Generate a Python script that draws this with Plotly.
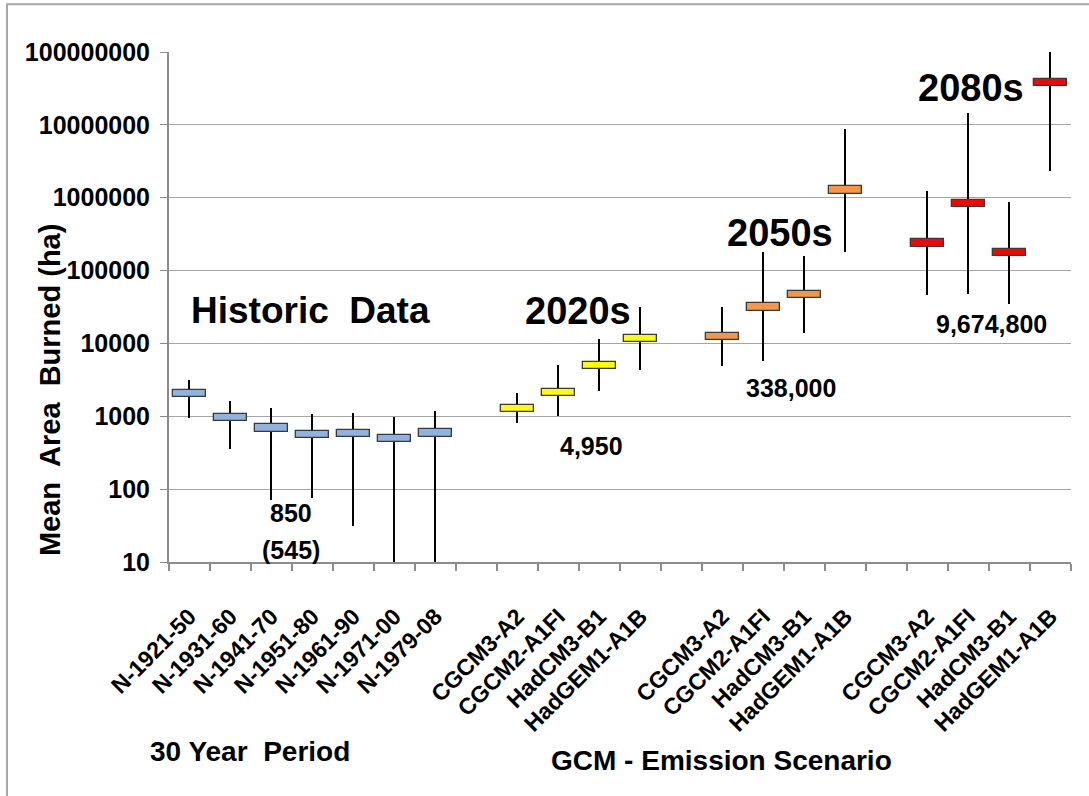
import plotly.graph_objects as go

# ---------------- data ----------------
hist_labels = ["N-1921-50", "N-1931-60", "N-1941-70", "N-1951-80",
               "N-1961-90", "N-1971-00", "N-1979-08"]
hist_mean = [2050, 970, 690, 557, 583, 495, 590]
hist_low = [950, 352, 71, 75, 31, 9, 9]
hist_high = [3100, 1620, 1280, 1060, 1120, 990, 1200]

gcm_labels = ["CGCM3-A2", "CGCM2-A1FI", "HadCM3-B1", "HadGEM1-A1B"]

m2020 = [1280, 2120, 4980, 11650]
lo2020 = [800, 1000, 2220, 4330]
hi2020 = [2120, 4980, 11500, 31400]

m2050 = [12350, 31500, 46800, 1280000]
lo2050 = [4900, 5770, 14050, 182000]
hi2050 = [31400, 178600, 158000, 8900000]

m2080 = [238000, 832000, 177000, 38200000]
lo2080 = [46500, 48400, 35200, 2340000]
hi2080 = [1240000, 14400000, 870000, 100000000]

y_tick_vals = [10, 100, 1000, 10000, 100000, 1000000, 10000000, 100000000]
y_tick_text = ["10", "100", "1000", "10000", "100000", "1000000", "10000000", "100000000"]

# ---------------- styles ----------------
C_HIST = "#8DB3E2"
C_2020 = "#FFFF00"
C_2050 = "#F79646"
C_2080 = "#FF0000"
BOX_HALF = 0.05  # half height of the mean box, in decades
FONT = "Liberation Sans, Arial, sans-serif"
GRAY = "#8C8C8C"

groups = [
    (hist_labels, hist_mean, hist_low, hist_high, C_HIST),
    (gcm_labels, m2020, lo2020, hi2020, C_2020),
    (gcm_labels, m2050, lo2050, hi2050, C_2050),
    (gcm_labels, m2080, lo2080, hi2080, C_2080),
]

xs, labels, means, lows, highs, colors = [], [], [], [], [], []
pos = 0
for gi, (lab, m, lo, hi, col) in enumerate(groups):
    if gi > 0:
        pos += 1  # empty category between groups
    for j in range(len(lab)):
        xs.append(pos)
        labels.append(lab[j])
        means.append(m[j])
        lows.append(lo[j])
        highs.append(hi[j])
        colors.append(col)
        pos += 1
n_slots = pos

fig = go.Figure()

# whiskers (min-max)
fig.add_trace(go.Bar(
    x=xs, base=lows, y=[h - l for h, l in zip(highs, lows)],
    width=0.045, marker=dict(color="black", line=dict(width=0)),
    cliponaxis=False, showlegend=False, hoverinfo="skip",
))

# mean boxes
f_lo = 10 ** (-BOX_HALF)
f_hi = 10 ** BOX_HALF
fig.add_trace(go.Bar(
    x=xs, base=[m * f_lo for m in means], y=[m * (f_hi - f_lo) for m in means],
    width=0.8, marker=dict(color=colors, line=dict(color="#3A3A3A", width=1.3)),
    showlegend=False, customdata=means, hovertemplate="%{customdata}<extra></extra>",
))

ann = []
def txt(x, y, s, size, xref="x", yref="y", angle=0):
    ann.append(dict(x=x, y=y, xref=xref, yref=yref, text=s, showarrow=False,
                    textangle=angle, xanchor="center", yanchor="middle",
                    font=dict(family=FONT, size=size, color="black", weight="bold")))

# annotation y positions on log axis are given in log10 units
txt(2.94, 4.45, "Historic  Data", 37)
txt(9.47, 4.45, "2020s", 38)
txt(14.41, 5.52, "2050s", 38)
txt(19.06, 7.51, "2080s", 38)
txt(9.81, 2.59, "4,950", 25)
txt(14.68, 3.395, "338,000", 25)
txt(19.55, 4.26, "9,674,800", 25)
txt(2.48, 1.675, "850", 25)
txt(2.47, 1.17, "(545)", 25)

txt(-0.1325, 0.338, "Mean  Area  Burned (ha)", 29, xref="paper", yref="paper", angle=-90)
txt(0.0898, -0.372, "30 Year  Period", 28, xref="paper", yref="paper")
txt(0.613, -0.39, "GCM - Emission Scenario", 28, xref="paper", yref="paper")

fig.update_layout(
    width=1089, height=796,
    margin=dict(l=169, r=18, t=52, b=234),
    paper_bgcolor="white", plot_bgcolor="white",
    barmode="overlay", bargap=0,
    font=dict(family=FONT, color="black"),
    annotations=ann,
    shapes=[dict(type="rect", xref="paper", yref="paper",
                 x0=-0.1796, x1=1.05, y0=-0.6, y1=1.0934,
                 line=dict(color="#A6A6A6", width=2), fillcolor="rgba(0,0,0,0)",
                 layer="below")],
    xaxis=dict(
        range=[-0.5, n_slots - 0.5],
        tickmode="array", tickvals=xs, ticktext=labels,
        tickangle=-45, ticks="", ticklabelstandoff=30,
        tickfont=dict(family=FONT, size=23, color="black", weight="bold"),
        showgrid=False, zeroline=False,
        showline=True, linecolor=GRAY, linewidth=2,
        minor=dict(tickmode="array", tickvals=[i - 0.5 for i in range(n_slots + 1)],
                   ticks="outside", ticklen=7, tickcolor=GRAY, tickwidth=2, showgrid=False),
    ),
    yaxis=dict(
        type="log", range=[1, 8],
        tickmode="array", tickvals=y_tick_vals, ticktext=y_tick_text,
        ticks="outside", ticklen=7, tickcolor=GRAY, tickwidth=1,
        ticklabelstandoff=5,
        tickfont=dict(family=FONT, size=25, color="black", weight="bold"),
        showgrid=True, gridcolor="#A6A6A6", gridwidth=1.3,
        zeroline=False, showline=True, linecolor=GRAY, linewidth=2,
    ),
)

fig.write_html("out.html")
